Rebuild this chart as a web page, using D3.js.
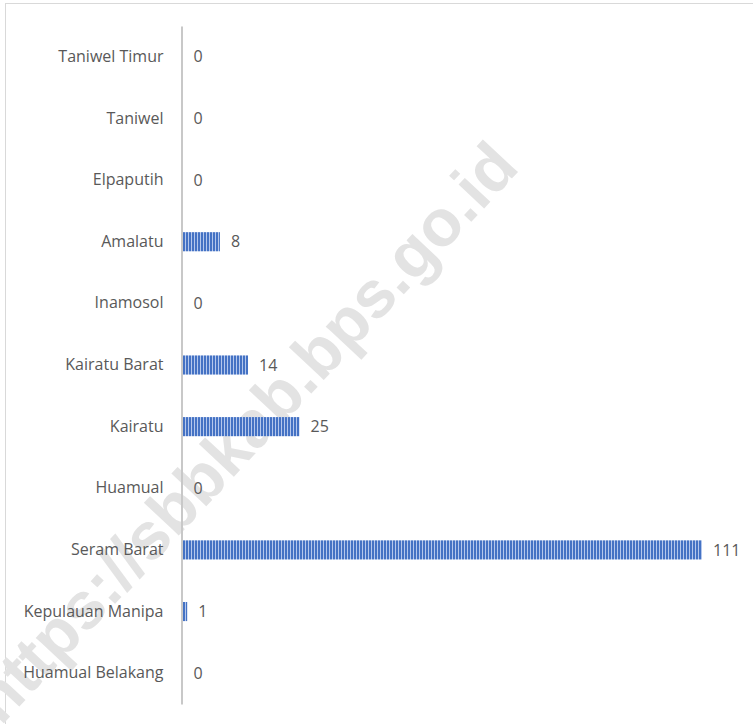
<!DOCTYPE html>
<meta charset="utf-8">
<head>
<style>
  body { margin: 0; background: #fff; }
  text { font-family: "Open Sans", Lato, sans-serif; }
</style>
</head>
<body>
<script src="https://d3js.org/d3.v7.min.js"></script>
<script>

// data (top to bottom as drawn)
var kecamatan = ["Taniwel Timur", "Taniwel", "Elpaputih", "Amalatu", "Inamosol",
                 "Kairatu Barat", "Kairatu", "Huamual", "Seram Barat",
                 "Kepulauan Manipa", "Huamual Belakang"];
var jumlah = [0, 0, 0, 8, 0, 14, 25, 0, 111, 1, 0];

var width = 753,
    height = 724;

var svg = d3.select("body").append("svg")
    .attr("width", width)
    .attr("height", height);

// striped fill like the excel pattern
var defs = svg.append("defs");
var pat = defs.append("pattern")
    .attr("id", "stripes")
    .attr("patternUnits", "userSpaceOnUse")
    .attr("width", 3)
    .attr("height", 10);
pat.append("rect").attr("width", 3).attr("height", 10).attr("fill", "#4472c4");
pat.append("rect").attr("x", 2).attr("width", 1).attr("height", 10).attr("fill", "#b4c7ec");

// chart border
svg.append("rect")
    .attr("x", 5.5)
    .attr("y", 3.5)
    .attr("width", 800)
    .attr("height", 800)
    .attr("fill", "none")
    .attr("stroke", "#d9d9d9");

// watermark, sits behind the chart
svg.append("text")
    .attr("transform", "translate(244,432) rotate(-47)")
    .attr("text-anchor", "middle")
    .attr("dominant-baseline", "central")
    .style("font-family", "'Liberation Sans', Arial, sans-serif")
    .style("font-weight", "bold")
    .style("font-size", "66px")
    .attr("fill", "#e3e3e3")
    .text("https://sbbkab.bps.go.id");

var x = d3.scaleLinear()
    .domain([0, 111])
    .range([182.5, 702]);

var y = d3.scaleBand()
    .domain(kecamatan)
    .range([26, 704])
    .paddingInner(0.69)
    .paddingOuter(0.345);

var data = kecamatan.map(function(k, i) { return {name: k, value: jumlah[i]}; });

svg.selectAll("rect.bar")
    .data(data.filter(function(d) { return d.value > 0; }))
    .enter()
    .append("rect")
    .attr("class", "bar")
    .attr("x", x(0))
    .attr("y", function(d) { return y(d.name); })
    .attr("width", function(d) { return x(d.value) - x(0); })
    .attr("height", y.bandwidth())
    .attr("fill", "url(#stripes)");

var yAxis = svg.append("g")
    .attr("transform", "translate(181.5,0)")
    .call(d3.axisLeft(y).tickSize(0).tickPadding(18));
yAxis.select(".domain")
    .attr("stroke", "#c8c8c8")
    .attr("stroke-width", 2);
yAxis.selectAll("text")
    .style("font-family", "'Open Sans', Lato, sans-serif")
    .style("font-size", "16px")
    .attr("fill", "#595959");

// value labels
svg.selectAll("text.val")
    .data(data)
    .enter()
    .append("text")
    .attr("class", "val")
    .attr("x", function(d) { return x(d.value) + 11; })
    .attr("y", function(d) { return y(d.name) + y.bandwidth() / 2; })
    .attr("dy", "0.35em")
    .style("font-size", "16px")
    .attr("fill", "#595959")
    .text(function(d) { return d.value; });

</script>
</body>
